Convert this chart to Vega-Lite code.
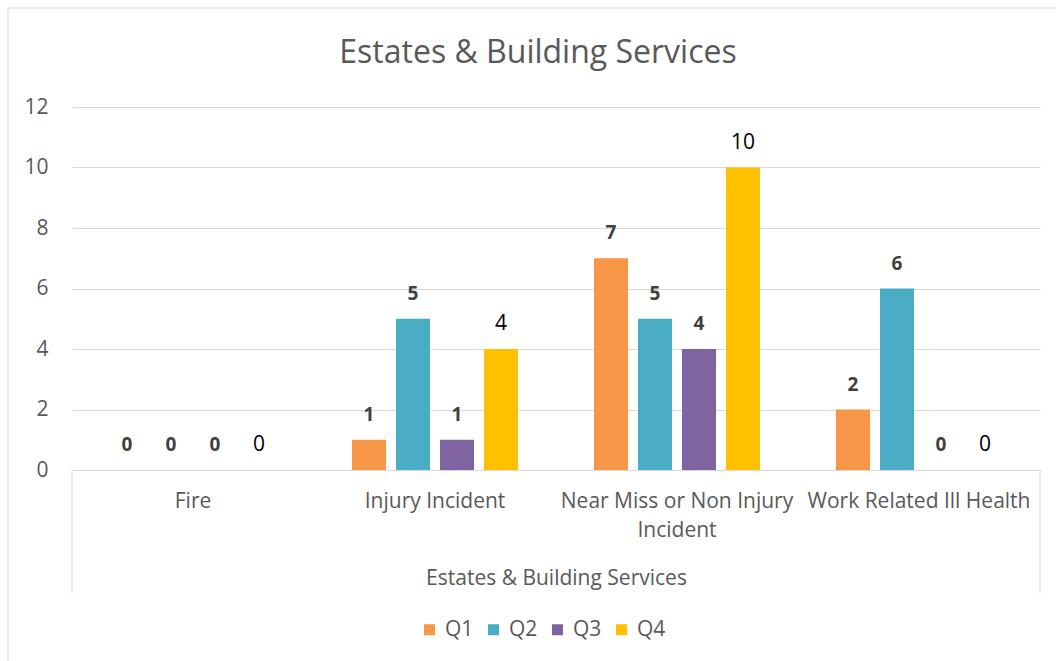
{
  "$schema": "https://vega.github.io/schema/vega-lite/v6.json",
  "width": 968,
  "height": 363,
  "autosize": {"type": "none"},
  "padding": {"left": 72, "top": 107, "right": 16, "bottom": 191},
  "background": "white",
  "config": {
    "font": "Open Sans",
    "view": {"stroke": null},
    "legend": {"padding": 0}
  },
  "title": {
    "text": "Estates & Building Services",
    "fontSize": 32,
    "fontWeight": "normal",
    "color": "#595959",
    "anchor": "middle",
    "baseline": "alphabetic",
    "dx": -18,
    "offset": 0,
    "dy": 87
  },
  "datasets": {
    "bars": [
      {"category": "Fire", "quarter": "Q1", "value": 0},
      {"category": "Fire", "quarter": "Q2", "value": 0},
      {"category": "Fire", "quarter": "Q3", "value": 0},
      {"category": "Fire", "quarter": "Q4", "value": 0},
      {"category": "Injury Incident", "quarter": "Q1", "value": 1},
      {"category": "Injury Incident", "quarter": "Q2", "value": 5},
      {"category": "Injury Incident", "quarter": "Q3", "value": 1},
      {"category": "Injury Incident", "quarter": "Q4", "value": 4},
      {"category": "Near Miss or Non Injury Incident", "quarter": "Q1", "value": 7},
      {"category": "Near Miss or Non Injury Incident", "quarter": "Q2", "value": 5},
      {"category": "Near Miss or Non Injury Incident", "quarter": "Q3", "value": 4},
      {"category": "Near Miss or Non Injury Incident", "quarter": "Q4", "value": 10},
      {"category": "Work Related Ill Health", "quarter": "Q1", "value": 2},
      {"category": "Work Related Ill Health", "quarter": "Q2", "value": 6},
      {"category": "Work Related Ill Health", "quarter": "Q3", "value": 0},
      {"category": "Work Related Ill Health", "quarter": "Q4", "value": 0}
    ]
  },
  "resolve": {"scale": {"x": "shared", "y": "shared"}},
  "layer": [
    {
      "data": {"name": "bars"},
      "mark": {"type": "bar"},
      "encoding": {
        "x": {
          "field": "category",
          "type": "nominal",
          "sort": null,
          "scale": {"paddingInner": 0, "paddingOuter": 0},
          "axis": {
            "orient": "bottom",
            "labelAngle": 0,
            "labelFontSize": 21,
            "labelColor": "#595959",
            "labelPadding": 20,
            "labelLineHeight": 29,
            "labelLimit": 400,
            "labelExpr": "datum.value == 'Near Miss or Non Injury Incident' ? ['Near Miss or Non Injury', 'Incident'] : datum.value",
            "ticks": false,
            "grid": false,
            "domain": true,
            "domainColor": "#d9d9d9",
            "domainWidth": 1,
            "title": "Estates & Building Services",
            "titleFontSize": 21,
            "titleFontWeight": "normal",
            "titleColor": "#595959",
            "titlePadding": 27
          }
        },
        "xOffset": {
          "field": "quarter",
          "type": "nominal",
          "scale": {"paddingInner": 0.227, "paddingOuter": 0.864}
        },
        "y": {
          "field": "value",
          "type": "quantitative",
          "scale": {"domain": [0, 12], "nice": false, "zero": true},
          "axis": {
            "values": [0, 2, 4, 6, 8, 10, 12],
            "grid": true,
            "gridColor": "#d9d9d9",
            "gridWidth": 1,
            "domain": false,
            "ticks": false,
            "labelFontSize": 21,
            "labelColor": "#595959",
            "labelPadding": 24,
            "title": null
          }
        },
        "color": {
          "field": "quarter",
          "type": "nominal",
          "scale": {
            "domain": ["Q1", "Q2", "Q3", "Q4"],
            "range": ["#F79646", "#4BACC6", "#8064A2", "#FFC000"]
          },
          "legend": {
            "title": null,
            "orient": "none",
            "direction": "horizontal",
            "columns": 4,
            "legendX": 347,
            "legendY": 512,
            "symbolType": "square",
            "symbolSize": 121,
            "symbolStrokeWidth": 0,
            "labelFontSize": 21,
            "labelColor": "#595959",
            "labelOffset": 5,
            "columnPadding": 9
          }
        }
      }
    },
    {
      "data": {"name": "bars"},
      "transform": [{"filter": "datum.quarter != 'Q4'"}],
      "mark": {"type": "text", "fontWeight": "bold", "fontSize": 19, "color": "#404040", "baseline": "middle", "dy": -25},
      "encoding": {
        "x": {"field": "category", "type": "nominal", "sort": null},
        "xOffset": {"field": "quarter", "type": "nominal"},
        "y": {"field": "value", "type": "quantitative"},
        "text": {"field": "value", "type": "quantitative"}
      }
    },
    {
      "data": {"name": "bars"},
      "transform": [{"filter": "datum.quarter == 'Q4'"}],
      "mark": {"type": "text", "fontWeight": "normal", "fontSize": 21, "color": "#000000", "baseline": "middle", "dy": -25},
      "encoding": {
        "x": {"field": "category", "type": "nominal", "sort": null},
        "xOffset": {"field": "quarter", "type": "nominal"},
        "y": {"field": "value", "type": "quantitative"},
        "text": {"field": "value", "type": "quantitative"}
      }
    },
    {
      "data": {"values": [{}]},
      "mark": {"type": "rule", "color": "#d9d9d9", "strokeWidth": 1},
      "encoding": {
        "x": {"datum": "Fire", "bandPosition": 0},
        "y": {"datum": 0},
        "y2": {"datum": -4.07}
      }
    },
    {
      "data": {"values": [{}]},
      "mark": {"type": "rule", "color": "#d9d9d9", "strokeWidth": 1},
      "encoding": {
        "x": {"datum": "Work Related Ill Health", "bandPosition": 1},
        "y": {"datum": 0},
        "y2": {"datum": -4.07}
      }
    },
    {
      "data": {"values": [{}]},
      "mark": {"type": "rule", "color": "#d9d9d9", "strokeWidth": 1},
      "encoding": {
        "x": {"datum": "Fire", "bandPosition": -0.2645},
        "y": {"datum": -7},
        "y2": {"datum": 15.27}
      }
    },
    {
      "data": {"values": [{}]},
      "mark": {"type": "rule", "color": "#d9d9d9", "strokeWidth": 1},
      "encoding": {
        "y": {"datum": 15.27},
        "x": {"datum": "Fire", "bandPosition": -0.2645},
        "x2": {"datum": "Work Related Ill Health", "bandPosition": 1.1}
      }
    }
  ]
}
